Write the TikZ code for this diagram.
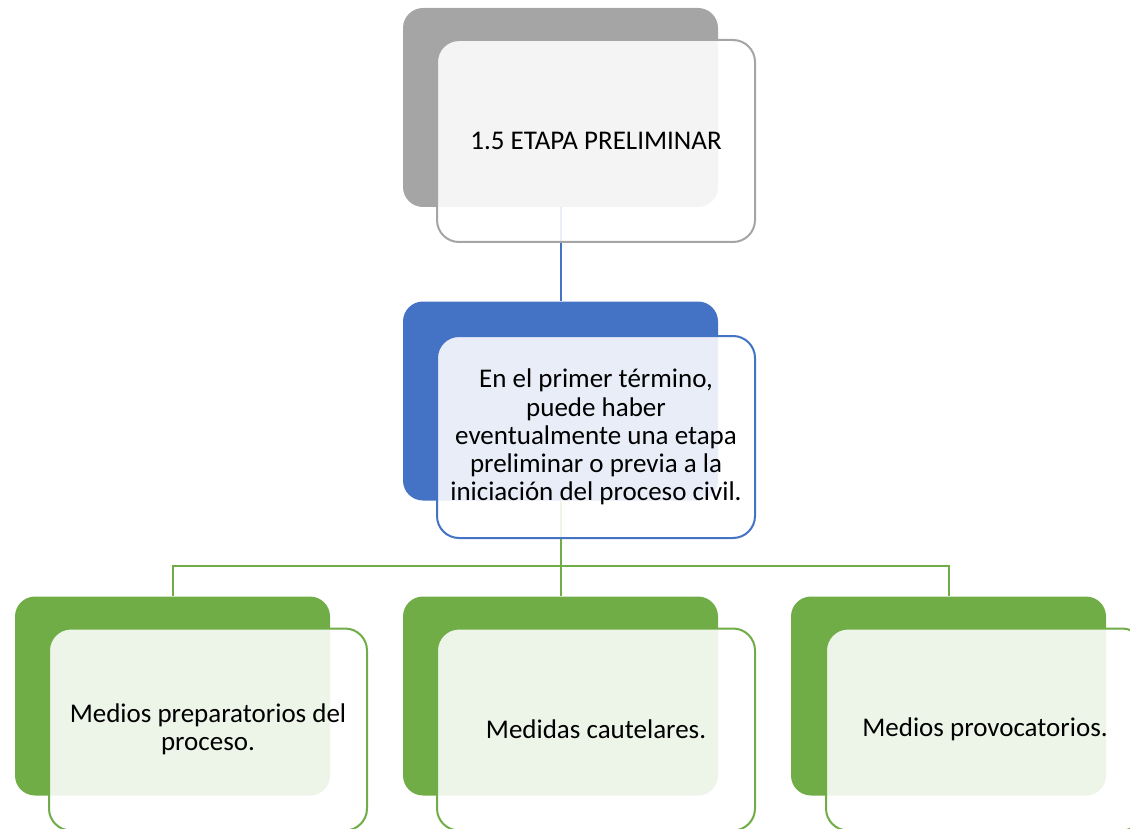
\documentclass[tikz,border=0pt]{standalone}
\usepackage{fontspec}
\setmainfont{Carlito}
\definecolor{grayc}{HTML}{A5A5A5}
\definecolor{bluec}{HTML}{4472C4}
\definecolor{greenc}{HTML}{70AD47}
\begin{document}
\begin{tikzpicture}[x=1pt,y=-1pt,
  backbox/.style={rectangle, rounded corners=20pt, minimum width=315pt, minimum height=199pt, inner sep=0pt},
  frontbox/.style={rectangle, rounded corners=22pt, minimum width=318pt, minimum height=202pt, inner sep=0pt,
    line width=2pt, fill=white, fill opacity=0.88, text opacity=1, align=center,
    font=\fontsize{27}{28.2}\selectfont},
  link/.style={line width=2pt}]
\useasboundingbox (0,0) rectangle (1130,829);
% back boxes
\node[backbox, fill=grayc] (tb) at (560.5,107.5) {};
\node[backbox, fill=bluec] (mb) at (560.5,401) {};
\node[backbox, fill=greenc] (lb) at (172.5,696) {};
\node[backbox, fill=greenc] (cb) at (560.5,696) {};
\node[backbox, fill=greenc] (rb) at (948.5,696) {};
% connectors
\coordinate (j) at (560.5,566);
\draw[link, bluec] (tb.south) -- (mb.north);
\draw[link, greenc] (mb.south) -- (j);
\draw[link, greenc] (lb.north) |- (j) -| (rb.north);
\draw[link, greenc] (j) -- (cb.north);
% front boxes
\node[frontbox, draw=grayc] (tf) at (596,141) {1.5 ETAPA PRELIMINAR};
\node[frontbox, draw=bluec] (mf) at (596,437) {En el primer término,\\ puede haber\\ eventualmente una etapa\\ preliminar o previa a la\\ iniciación del proceso civil.};
\node[frontbox, draw=greenc] (lf) at (208,729.5) {Medios preparatorios del\\ proceso.};
\node[frontbox, draw=greenc] (cf) at (596,729.5) {Medidas cautelares.};
\node[frontbox, draw=greenc] (rf) at (985,729.5) {Medios provocatorios.};
\end{tikzpicture}
\end{document}
